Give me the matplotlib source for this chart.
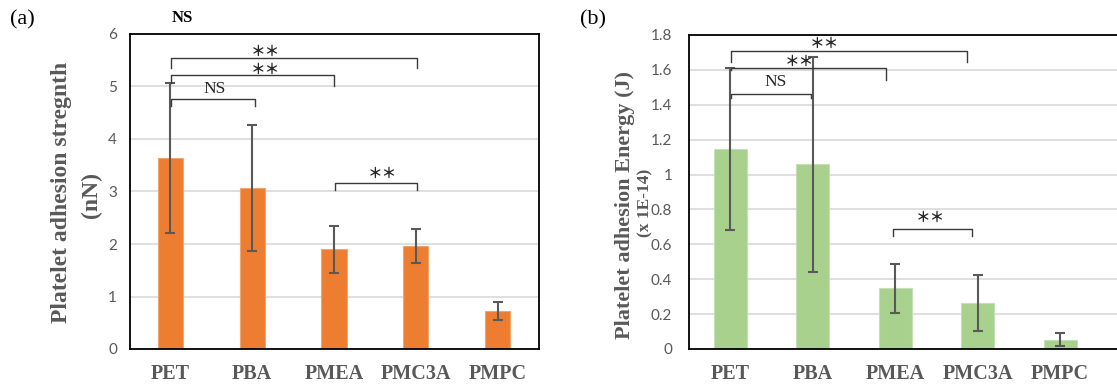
import numpy as np
import matplotlib
matplotlib.use("Agg")
import matplotlib.pyplot as plt

# data
materials = ["PET", "PBA", "PMEA", "PMC3A", "PMPC"]
strength = [3.63, 3.07, 1.90, 1.96, 0.72]        # nN
strength_err = [1.43, 1.20, 0.45, 0.33, 0.17]
energy = [1.145, 1.059, 0.348, 0.266, 0.053]     # x 1E-14 J
energy_err = [0.465, 0.615, 0.142, 0.160, 0.038]

W, H = 1117, 385
fig = plt.figure(figsize=(W / 100, H / 100), dpi=100)

serif = "Liberation Serif"
gray = "#595959"
line_c = "#3a3a3a"
star = "＊＊"


def px(x, y):
    # pixel position -> figure fraction
    return x / W, 1 - y / H


def style_axis(ax, ymax, ystep, fmt):
    ax.set_ylim(0, ymax)
    ax.set_yticks(np.arange(0, ymax + 1e-9, ystep))
    ax.set_yticklabels([fmt(v) for v in np.arange(0, ymax + 1e-9, ystep)])
    ax.grid(axis="y", color="#d9d9d9", linewidth=1.2)
    ax.set_axisbelow(True)
    ax.tick_params(length=0)
    for t in ax.get_yticklabels():
        t.set_fontfamily("Lato")
        t.set_fontsize(11)
        t.set_color(gray)
    ax.set_xticks(range(len(materials)))
    ax.set_xticklabels(materials, fontfamily=serif, fontweight="bold",
                       fontsize=14.5, color=gray)
    for s in ax.spines.values():
        s.set_color("black")
        s.set_linewidth(1.3)


def bracket(ax, x0, x1, y, y0, y1, text, tx, ty):
    ax.plot([x0, x0, x1, x1], [y0, y, y, y1], color=line_c, lw=1.0,
            clip_on=False, zorder=4)
    if text == "NS":
        ax.text(tx, ty, text, ha="center", va="center", fontfamily=serif,
                fontsize=12.5, color="#262626", zorder=5)
    else:
        ax.text(tx, ty, text, ha="center", va="center",
                fontfamily="Noto Sans CJK JP", fontweight="bold",
                fontsize=10.5, color="#262626", zorder=5)


# ---- (a) adhesion strength ----
ax1 = fig.add_axes([129.5 / W, 36 / H, 409 / W, 315 / H])
x = np.arange(len(materials))
ax1.bar(x, strength, width=0.31, color="#ED7D31", edgecolor="#F4A56E",
        linewidth=0.8, zorder=2)
ax1.errorbar(x, strength, yerr=strength_err, fmt="none", ecolor=gray,
             elinewidth=1.5, capsize=3.6, capthick=1.5, zorder=3)
ax1.set_xlim(-0.5, 4.5)
style_axis(ax1, 6, 1, lambda v: f"{v:g}")
ax1.tick_params(axis="y", pad=9)
ax1.tick_params(axis="x", pad=11)

bracket(ax1, 0.007, 1.034, 4.756, 4.62, 4.62, "NS", 0.545, 4.95)
bracket(ax1, 0.007, 2.0, 5.22, 5.06, 5.0, star, 1.157, 5.33)
bracket(ax1, 0.007, 3.02, 5.55, 5.35, 5.35, star, 1.157, 5.68)
bracket(ax1, 2.01, 3.02, 3.156, 3.03, 3.03, star, 2.59, 3.35)

fig.text(*px(62, 192), "Platelet adhesion stregnth", rotation=90,
         ha="center", va="center", fontfamily=serif, fontweight="bold",
         fontsize=17, color=gray)
fig.text(*px(91, 195), "(nN)", rotation=90, ha="center", va="center",
         fontfamily=serif, fontweight="bold", fontsize=17, color=gray)
fig.text(*px(22, 20), "(a)", ha="center", va="center", fontfamily=serif,
         fontsize=16, color="black")
fig.text(*px(182, 18), "NS", ha="center", va="center", fontfamily=serif,
         fontweight="bold", fontsize=12, color="black")

# ---- (b) adhesion energy ----
ax2 = fig.add_axes([689 / W, 36 / H, (W - 689) / W, 314 / H])
ax2.bar(x, energy, width=0.40, color="#A9D18E", edgecolor="#C5E0B4",
        linewidth=0.8, zorder=2)
ax2.errorbar(x, energy, yerr=energy_err, fmt="none", ecolor=gray,
             elinewidth=1.5, capsize=3.6, capthick=1.5, zorder=3)
ax2.set_xlim(-0.5, 4.69)
style_axis(ax2, 1.8, 0.2, lambda v: f"{v:.1f}".rstrip("0").rstrip(".") if v else "0")
ax2.spines["right"].set_visible(False)
ax2.tick_params(axis="y", pad=12)
ax2.tick_params(axis="x", pad=11)

bracket(ax2, 0.009, 0.975, 1.462, 1.437, 1.437, "NS", 0.551, 1.533)
bracket(ax2, 0.009, 1.888, 1.61, 1.60, 1.543, star, 0.845, 1.651)
bracket(ax2, 0.009, 2.866, 1.709, 1.644, 1.644, star, 1.148, 1.753)
bracket(ax2, 1.969, 2.927, 0.686, 0.648, 0.648, star, 2.433, 0.759)

fig.text(*px(625, 205), "Platelet adhesion Energy (J)", rotation=90,
         ha="center", va="center", fontfamily=serif, fontweight="bold",
         fontsize=16, color=gray)
fig.text(*px(645, 203), "(x 1E-14)", rotation=90, ha="center", va="center",
         fontfamily=serif, fontweight="bold", fontsize=12.5, color=gray)
fig.text(*px(593, 20), "(b)", ha="center", va="center", fontfamily=serif,
         fontsize=16, color="black")

fig.savefig("out.png", dpi=100)
